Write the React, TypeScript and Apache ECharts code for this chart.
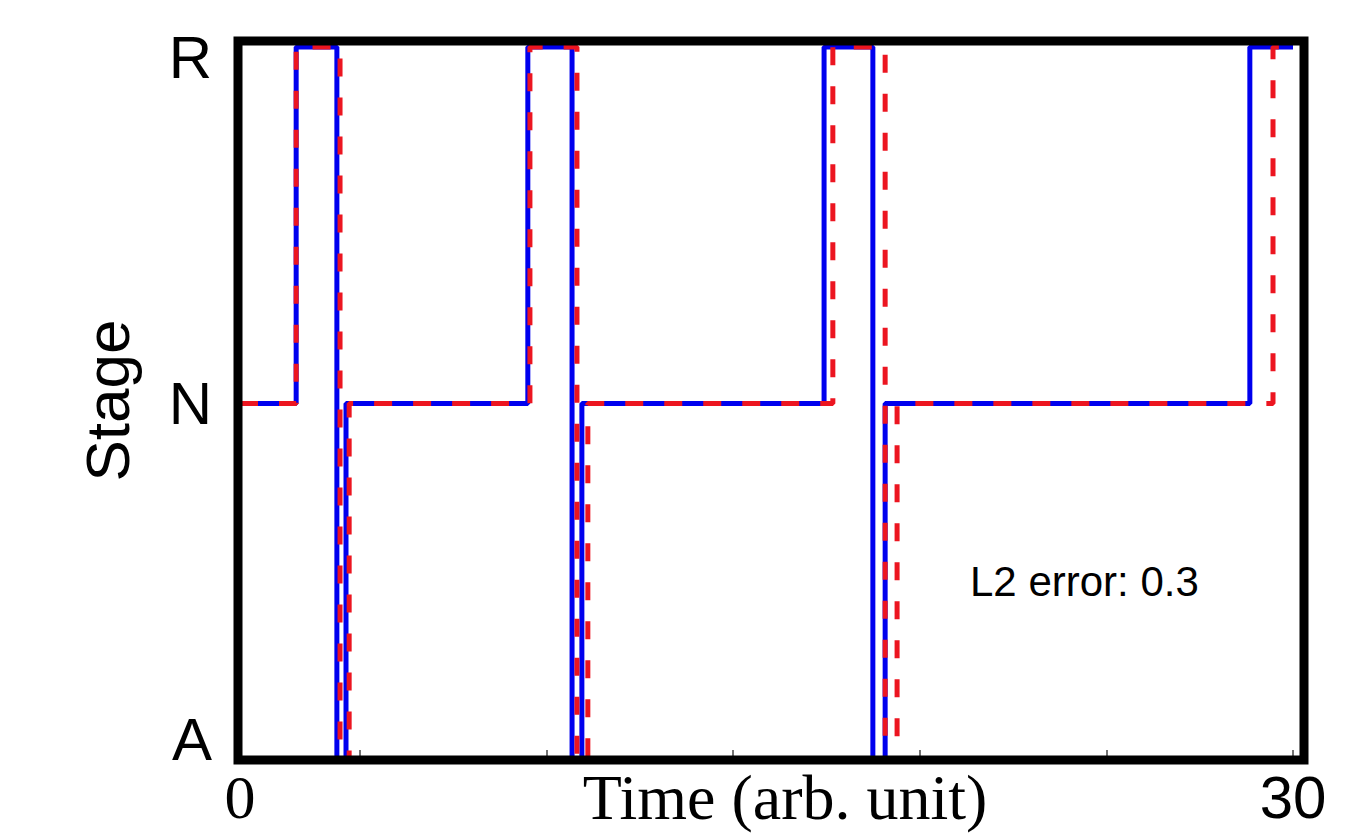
import React, { useEffect, useRef } from "react";
import * as echarts from "echarts";

// ---- data ----
const stageLabels = ["A", "N", "R"];
const xTickValues = [3.42, 8.74, 14.05, 19.37, 24.68, 30];
const xLabelValues = [0, 30];
const blueTimes = [0, 1.6, 2.76, 3.02, 8.2, 9.46, 9.74, 16.64, 18.03, 18.38, 28.77, 30];
const blueStages = [1, 2, 0, 1, 2, 0, 1, 2, 0, 1, 2, 2];
const redTimes = [0, 1.6, 2.85, 3.11, 8.26, 9.6, 9.91, 16.89, 18.38, 18.72, 29.43, 30];
const redStages = [1, 2, 0, 1, 2, 0, 1, 2, 0, 1, 2, 2];
const errorText = "L2 error: 0.3";

const X_MIN = -0.057;
const X_MAX = 30.313;
const Y_MIN = 0;
const Y_MAX = 2.017;

const SANS = "Liberation Sans, Arial, sans-serif";
const SERIF = "Liberation Serif, Times New Roman, serif";

export default function App() {
  const ref = useRef<HTMLDivElement>(null);

  useEffect(() => {
    document.body.style.margin = "0";
    if (!ref.current) return;
    const chart = echarts.init(ref.current, undefined, { renderer: "svg" });
    const blueData = blueTimes.map((t, i) => [t, blueStages[i]]);
    const redData = redTimes.map((t, i) => [t, redStages[i]]);

    chart.setOption({
      animation: false,
      backgroundColor: "#ffffff",
      grid: {
        left: 238,
        top: 41,
        width: 1066,
        height: 719,
        containLabel: false,
        outerBoundsMode: "none",
        show: true,
        z: 10,
        borderColor: "#000000",
        borderWidth: 9,
        backgroundColor: "transparent",
      },
      xAxis: {
        type: "value",
        min: X_MIN,
        max: X_MAX,
        name: "Time (arb. unit)",
        nameLocation: "middle",
        nameGap: 5,
        nameMoveOverlap: false,
        nameTextStyle: {
          fontFamily: SERIF,
          fontSize: 64,
          lineHeight: 64,
          color: "#000",
          padding: [0, 0, 0, 28],
          verticalAlign: "top",
        },
        axisLine: { show: false },
        splitLine: { show: false },
        axisTick: {
          show: true,
          inside: true,
          length: 10,
          customValues: xTickValues,
          lineStyle: { color: "#444", width: 1.5 },
        },
        axisLabel: {
          show: true,
          customValues: xLabelValues,
          margin: 7,
          formatter: (v: number) => (v === 0 ? "{s|0}" : "{h|" + v + "}"),
          rich: {
            s: { fontFamily: SERIF, fontSize: 62, lineHeight: 60, color: "#000" },
            h: { fontFamily: SANS, fontSize: 60, lineHeight: 60, color: "#000" },
          },
        },
      },
      yAxis: {
        type: "value",
        min: Y_MIN,
        max: Y_MAX,
        name: "Stage",
        nameLocation: "middle",
        nameGap: 100,
        nameRotate: 90,
        nameTextStyle: { fontFamily: SANS, fontSize: 62, color: "#000" },
        axisLine: { show: false },
        splitLine: { show: false },
        axisTick: { show: false },
        axisLabel: {
          show: true,
          customValues: [0, 1, 2],
          margin: 26,
          formatter: (v: number) => {
            const s = stageLabels[Math.round(v)];
            if (Math.round(v) === 2) return "{r|" + s + "}";
            if (Math.round(v) === 0) return "{a|" + s + "}";
            return "{n|" + s + "}";
          },
          rich: {
            r: { fontFamily: SANS, fontSize: 60, color: "#000", padding: [20, 0, 0, 0] },
            n: { fontFamily: SANS, fontSize: 60, color: "#000" },
            a: { fontFamily: SANS, fontSize: 60, color: "#000", padding: [0, 0, 42, 0] },
          },
        },
      },
      series: [
        {
          name: "blue",
          type: "line",
          step: "end",
          data: blueData,
          showSymbol: false,
          symbol: "none",
          lineStyle: { color: "#0000ee", width: 5 },
          z: 2,
        },
        {
          name: "red",
          type: "line",
          step: "end",
          data: redData,
          showSymbol: false,
          symbol: "none",
          lineStyle: { color: "#ec1520", width: 5, type: [18, 21] },
          z: 3,
        },
      ],
      graphic: [
        {
          type: "text",
          left: 970,
          top: 560,
          style: {
            text: errorText,
            fontFamily: SANS,
            fontSize: 42,
            fill: "#000",
          },
        },
      ],
    });

    return () => chart.dispose();
  }, []);

  return <div ref={ref} style={{ width: 1357, height: 834 }} />;
}
